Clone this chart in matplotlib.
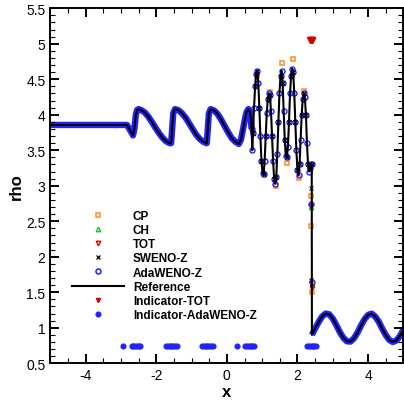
import numpy as np
import matplotlib
matplotlib.use("Agg")
import matplotlib.pyplot as plt
from matplotlib.lines import Line2D
from matplotlib.ticker import MultipleLocator

plt.rcParams["font.family"] = ["Liberation Sans", "DejaVu Sans"]
plt.rcParams["axes.unicode_minus"] = False

# ── data ──────────────────────────────────────────────────
x_ref = [-5.0, -2.83, -2.75, -2.66, -2.62, -2.58, -2.54, -2.50, -2.42, -2.32, -2.22,
         -2.12, -2.02, -1.92, -1.82, -1.72, -1.62, -1.58, -1.55, -1.52, -1.47, -1.37,
         -1.27, -1.17, -1.07, -0.97, -0.87, -0.77, -0.67, -0.57, -0.54, -0.51, -0.46,
         -0.36, -0.26, -0.16, -0.06, 0.04, 0.14, 0.24, 0.34, 0.40, 0.46, 0.52, 0.56,
         0.61, 0.64, 0.67, 0.70, 0.72, 0.74, 0.77, 0.80, 0.83, 0.86, 0.89, 0.92, 0.95,
         0.98, 1.01, 1.04, 1.07, 1.10, 1.13, 1.16, 1.19, 1.22, 1.25, 1.28, 1.31, 1.34,
         1.37, 1.40, 1.43, 1.46, 1.49, 1.52, 1.55, 1.58, 1.61, 1.64, 1.67, 1.70, 1.73,
         1.76, 1.79, 1.82, 1.85, 1.88, 1.91, 1.94, 1.97, 2.00, 2.03, 2.06, 2.09, 2.12,
         2.15, 2.18, 2.21, 2.24, 2.27, 2.30, 2.33, 2.36, 2.39, 2.405, 2.41, 2.45, 2.50,
         2.60, 2.70, 2.80, 2.90, 3.00, 3.10, 3.20, 3.30, 3.40, 3.50, 3.60, 3.70, 3.80,
         3.90, 4.00, 4.10, 4.20, 4.30, 4.40, 4.50, 4.60, 4.70, 4.80, 4.90, 5.00]
rho_ref = [3.857, 3.857, 3.79, 3.71, 3.80, 4.00, 4.07, 4.08, 4.065, 4.03, 3.97,
           3.895, 3.815, 3.74, 3.675, 3.625, 3.60, 3.60, 3.80, 4.02, 4.08, 4.065,
           4.02, 3.96, 3.88, 3.80, 3.72, 3.66, 3.62, 3.60, 3.80, 4.02, 4.08,
           4.06, 4.01, 3.93, 3.84, 3.75, 3.67, 3.62, 3.59, 3.65, 3.80, 3.96, 4.04,
           4.08, 4.06, 4.00, 3.80, 3.50, 3.75, 4.10, 4.40, 4.58, 4.62, 4.45, 4.10, 3.70,
           3.35, 3.18, 3.16, 3.35, 3.70, 4.02, 4.22, 4.30, 4.28, 4.05, 3.70, 3.35, 3.10,
           3.03, 3.12, 3.45, 3.90, 4.30, 4.55, 4.62, 4.45, 4.05, 3.65, 3.42, 3.40, 3.55,
           3.90, 4.30, 4.55, 4.65, 4.60, 4.30, 3.90, 3.50, 3.22, 3.15, 3.30, 3.65, 4.00,
           4.22, 4.30, 4.25, 4.00, 3.60, 3.30, 3.20, 3.25, 3.30, 3.31, 0.90, 0.94, 0.99,
           1.08, 1.16, 1.20, 1.19, 1.13, 1.04, 0.94, 0.86, 0.81, 0.805, 0.85, 0.93, 1.03,
           1.12, 1.18, 1.20, 1.16, 1.09, 0.99, 0.90, 0.83, 0.80, 0.82, 0.88, 0.97]

# points near the shock, per scheme
cp_x = [0.86, 1.04, 1.21, 1.38, 1.56, 1.70, 1.87, 2.04, 2.19, 2.38, 2.38, 2.40]
cp_rho = [4.55, 3.15, 4.32, 2.99, 4.73, 3.32, 4.79, 3.11, 4.33, 2.85, 2.43, 1.50]
ch_x = [2.38, 2.40]
ch_rho = [2.70, 1.60]
tot_x = [2.38, 2.40]
tot_rho = [2.72, 1.57]
sweno_x = [2.37, 2.39]
sweno_rho = [2.97, 1.68]
ada_x = [2.38, 2.40]
ada_rho = [2.75, 1.65]

ind_tot_x = [2.35, 2.375, 2.40, 2.425]
ind_tot_y = 5.05
ind_ada_x = [-2.93, -2.70, -2.65, -2.60, -2.55, -2.50, -2.45,
             -1.72, -1.67, -1.62, -1.57, -1.52, -1.47, -1.42,
             -0.70, -0.65, -0.60, -0.55, -0.50, -0.45, -0.40,
             0.30, 0.52, 0.57, 0.62, 0.67, 0.72, 0.76,
             2.28, 2.33, 2.38, 2.43, 2.48, 2.53]
ind_ada_y = 0.745

ORANGE = "#ff8c1a"
GREEN = "#1fbf1f"
RED = "#d40000"
BLUE = "#2323ff"

# ── figure ────────────────────────────────────────────────
fig = plt.figure(figsize=(4.04, 4.02), dpi=100)
ax = fig.add_axes([0.1248, 0.0938, 0.8735, 0.8831])

xr = np.array(x_ref)
rr = np.array(rho_ref)
osc = (xr >= 0.70) & (xr <= 2.405)
left = xr <= 0.70
right = xr >= 2.41

# dense AdaWENO-Z circles look like a thick blue band in the smooth parts
ax.plot(xr[left], rr[left], color=BLUE, lw=4.6, zorder=1, solid_capstyle="butt")
ax.plot(xr[right], rr[right], color=BLUE, lw=4.6, zorder=1, solid_capstyle="butt")

# discrete samples in the oscillatory zone
ax.plot(cp_x, cp_rho, ls="none", marker="s", ms=3.2, mfc="none", mec=ORANGE, mew=1.1, zorder=2)
ax.plot(ch_x, ch_rho, ls="none", marker="^", ms=3.2, mfc="none", mec=GREEN, mew=1.0, zorder=2)
ax.plot(tot_x, tot_rho, ls="none", marker="v", ms=3.2, mfc="none", mec=RED, mew=1.0, zorder=2)
ax.plot(xr[osc], rr[osc], ls="none", marker="o", ms=3.6, mfc="none", mec=BLUE, mew=1.0, zorder=2)
ax.plot(ada_x, ada_rho, ls="none", marker="o", ms=3.6, mfc="none", mec=BLUE, mew=1.0, zorder=2)

ax.plot(xr, rr, color="black", lw=1.5, zorder=3)

ax.plot(xr[osc][::2], rr[osc][::2], ls="none", marker="x", ms=2.6, color="black", mew=0.7, zorder=4)
ax.plot(sweno_x, sweno_rho, ls="none", marker="x", ms=2.6, color="black", mew=0.7, zorder=4)

ax.plot(ind_tot_x, [ind_tot_y] * len(ind_tot_x), ls="none", marker="v", ms=4.5,
        color=RED, zorder=4)
ax.plot(ind_ada_x, [ind_ada_y] * len(ind_ada_x), ls="none", marker="o", ms=3.4,
        color=BLUE, zorder=4)

# ── axes ──────────────────────────────────────────────────
ax.set_xlim(-5, 5)
ax.set_ylim(0.5, 5.5)
ax.xaxis.set_major_locator(MultipleLocator(2))
ax.xaxis.set_minor_locator(MultipleLocator(0.5))
ax.yaxis.set_minor_locator(MultipleLocator(0.1))
ax.set_yticks(np.arange(0.5, 5.51, 0.5))
ax.set_yticklabels(["0.5", "1", "1.5", "2", "2.5", "3", "3.5", "4", "4.5", "5", "5.5"])
ax.tick_params(which="both", direction="in", top=True, right=True, labelsize=10)
ax.tick_params(which="major", length=6.5, width=1.4, pad=3.5)
ax.tick_params(which="minor", length=3.4, width=0.8)
for s in ax.spines.values():
    s.set_linewidth(1.4)

ax.set_xlabel("x", fontsize=12, fontweight="bold", labelpad=1)
ax.set_ylabel("rho", fontsize=12, fontweight="bold", labelpad=2)

handles = [
    Line2D([], [], ls="none", marker="s", ms=3.2, mfc="none", mec=ORANGE, mew=1.1),
    Line2D([], [], ls="none", marker="^", ms=3.2, mfc="none", mec=GREEN, mew=1.0),
    Line2D([], [], ls="none", marker="v", ms=3.2, mfc="none", mec=RED, mew=1.0),
    Line2D([], [], ls="none", marker="x", ms=3.0, color="black", mew=0.9),
    Line2D([], [], ls="none", marker="o", ms=3.6, mfc="none", mec=BLUE, mew=1.1),
    Line2D([], [], color="black", lw=1.5),
    Line2D([], [], ls="none", marker="v", ms=3.0, color=RED),
    Line2D([], [], ls="none", marker="o", ms=3.4, color=BLUE),
]
labels = ["CP", "CH", "TOT", "SWENO-Z", "AdaWENO-Z", "Reference",
          "Indicator-TOT", "Indicator-AdaWENO-Z"]
ax.legend(handles, labels, loc="upper left", bbox_to_anchor=(0.061, 0.4315),
          frameon=False, borderpad=0, borderaxespad=0, handlelength=4.4,
          handletextpad=0.76, labelspacing=0.18,
          prop={"size": 8.5, "weight": "bold"})

fig.savefig("out.png", dpi=100)
